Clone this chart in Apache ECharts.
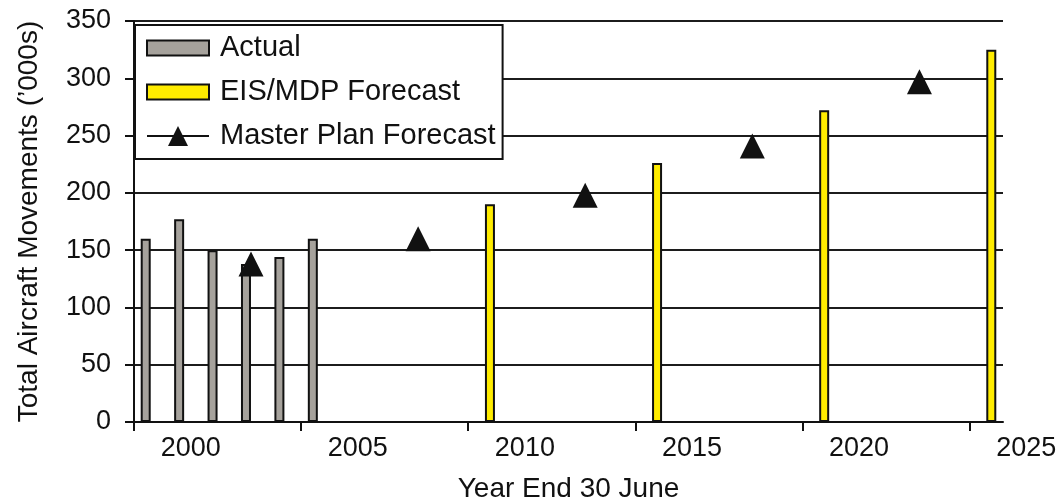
<!DOCTYPE html>
<html>
<head>
<meta charset="utf-8">
<style>
  html, body { margin: 0; padding: 0; background: #ffffff; }
  #chart { width: 1063px; height: 500px; }
</style>
<script src="https://cdn.jsdelivr.net/npm/echarts@6/dist/echarts.min.js"></script>
</head>
<body>
<div id="chart"></div>
<script>
// Aircraft movements, year ending 30 June ('000s)
const actualYears = [1999, 2000, 2001, 2002, 2003, 2004];
const actualValues = [160, 177, 150, 138, 144, 160];

const eisYears = [2009, 2014, 2019, 2024];
const eisValues = [190, 226, 272, 325];

const masterYears = [2002, 2007, 2012, 2017, 2022];
const masterValues = [138, 160, 198, 241, 297];

const yearLabels = [2000, 2005, 2010, 2015, 2020, 2025];
const yearTicks = [1998.5, 2003.5, 2008.5, 2013.5, 2018.5, 2023.5];

const seriesNames = ['Actual', 'EIS/MDP Forecast', 'Master Plan Forecast'];

const FONT = '"Liberation Sans", Arial, sans-serif';
const INK = '#111111';

const pairs = (xs, ys) => xs.map((x, i) => [x, ys[i]]);

const chart = echarts.init(document.getElementById('chart'), null, { renderer: 'canvas' });

chart.setOption({
  backgroundColor: '#ffffff',
  animation: false,
  textStyle: { fontFamily: FONT, color: INK },
  grid: [
    { left: 134, right: 60, top: 21, bottom: 78, outerBoundsMode: 'none' },
    // year labels use the plot's scale (33.42 px per year) and run past its right edge
    { left: 23.6, width: 1036, top: 21, bottom: 78, outerBoundsMode: 'none' }
  ],
  legend: {
    orient: 'vertical',
    left: 135,
    top: 25,
    padding: [8, 7, 8, 11],
    itemGap: 14,
    itemWidth: 62,
    itemHeight: 25,
    backgroundColor: '#ffffff',
    borderColor: INK,
    borderWidth: 2,
    textStyle: { fontSize: 29, color: INK, fontFamily: FONT, lineHeight: 30, padding: [0, 0, 0, 6] },
    data: [
      { name: seriesNames[0], icon: 'path://M0,0M62,25M0,5h62v15h-62z' },
      { name: seriesNames[1], icon: 'path://M0,0M62,25M0,5h62v15h-62z' },
      { name: seriesNames[2], lineStyle: { color: INK, width: 2, opacity: 1 } }
    ]
  },
  xAxis: [
    {
      type: 'value',
      gridIndex: 0,
      min: 1998.5,
      max: 2024.5,
      name: 'Year End 30 June',
      nameLocation: 'middle',
      nameGap: 53,
      nameTextStyle: { fontSize: 28, color: INK, fontFamily: FONT },
      axisLine: { show: true, lineStyle: { color: INK, width: 2 } },
      axisTick: { show: true, length: 9, customValues: yearTicks, lineStyle: { color: INK, width: 2 } },
      axisLabel: { show: false },
      splitLine: { show: false }
    },
    {
      type: 'value',
      gridIndex: 1,
      min: 1995,
      max: 2026,
      axisLine: { show: false },
      axisTick: { show: false },
      splitLine: { show: false },
      axisLabel: {
        customValues: yearLabels,
        margin: 13,
        fontSize: 27,
        color: INK,
        fontFamily: FONT,
        formatter: v => String(v)
      }
    }
  ],
  yAxis: [
    {
      type: 'value',
      gridIndex: 0,
      min: 0,
      max: 350,
      interval: 50,
      name: "Total Aircraft Movements (\u2019000s)",
      nameLocation: 'middle',
      nameRotate: 90,
      nameGap: 91,
      nameTextStyle: { fontSize: 28, color: INK, fontFamily: FONT },
      axisLine: { show: true, lineStyle: { color: INK, width: 2 } },
      axisTick: { show: true, length: 9, lineStyle: { color: INK, width: 2 } },
      axisLabel: { fontSize: 27, color: INK, margin: 23, fontFamily: FONT },
      splitLine: { show: true, lineStyle: { color: '#1c1c1c', width: 2 } }
    },
    {
      type: 'value',
      gridIndex: 1,
      show: false,
      min: 0,
      max: 350
    }
  ],
  series: [
    {
      name: seriesNames[0],
      type: 'bar',
      xAxisIndex: 0,
      yAxisIndex: 0,
      barWidth: 10,
      barGap: '0%',
      data: pairs(actualYears, actualValues),
      itemStyle: { color: '#a6a29c', borderColor: INK, borderWidth: 2 }
    },
    {
      name: seriesNames[1],
      type: 'bar',
      xAxisIndex: 0,
      yAxisIndex: 0,
      barWidth: 10,
      barGap: '0%',
      data: pairs(eisYears, eisValues),
      itemStyle: { color: '#ffec00', borderColor: INK, borderWidth: 2 }
    },
    {
      name: seriesNames[2],
      type: 'line',
      xAxisIndex: 0,
      yAxisIndex: 0,
      data: pairs(masterYears, masterValues),
      symbol: 'triangle',
      symbolSize: 25,
      showAllSymbol: true,
      lineStyle: { width: 0, opacity: 0, color: INK },
      itemStyle: { color: INK, borderWidth: 0 },
      z: 5
    }
  ]
});
</script>
</body>
</html>
